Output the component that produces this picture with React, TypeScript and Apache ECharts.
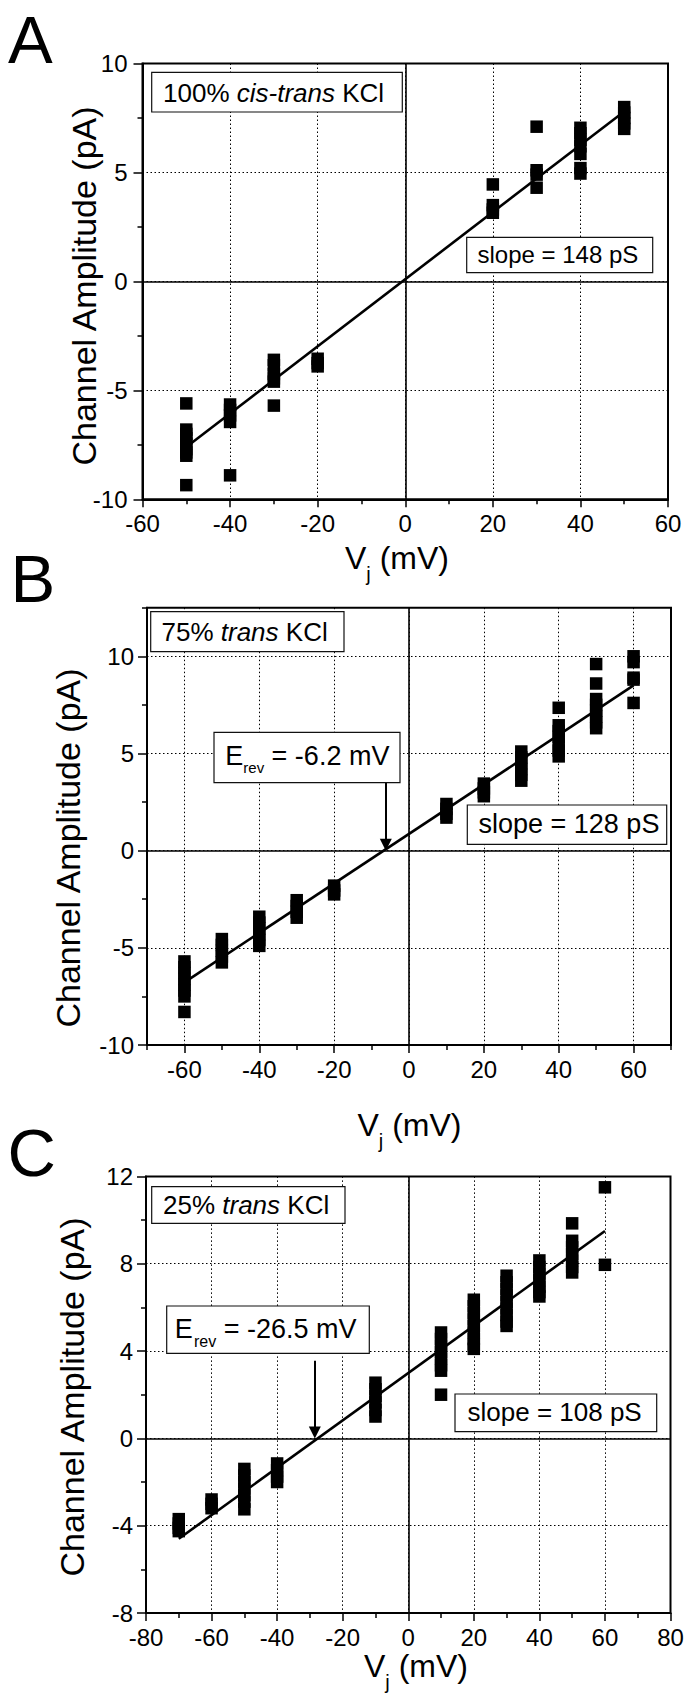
import React, { useEffect, useRef } from 'react';
import * as echarts from 'echarts';

const FONT = "'Liberation Sans', Arial, Helvetica, sans-serif";

// ---------- Panel A : 100% cis-trans KCl ----------
const pointsA: [number, number][] = [
  [-50, -5.6], [-50, -6.8], [-50, -7.0], [-50, -7.2], [-50, -7.45], [-50, -7.7], [-50, -7.85], [-50, -8.0], [-50, -9.35],
  [-40, -5.65], [-40, -5.9], [-40, -6.15], [-40, -6.45], [-40, -8.9],
  [-30, -3.6], [-30, -3.85], [-30, -4.25], [-30, -4.45], [-30, -4.6], [-30, -5.7],
  [-20, -3.55], [-20, -3.75], [-20, -3.9],
  [20, 4.45], [20, 3.5], [20, 3.3], [20, 3.15],
  [30, 7.1], [30, 5.1], [30, 4.9], [30, 4.3],
  [40, 7.05], [40, 6.8], [40, 6.5], [40, 6.2], [40, 5.85], [40, 5.2], [40, 4.95],
  [50, 8.0], [50, 7.75], [50, 7.5], [50, 7.25], [50, 7.0],
];
const fitA: [number, number][] = [[-50, -7.6], [50, 7.8]];
const xRangeA = [-60, 60];
const yRangeA = [-10, 10];
const xTicksA = [-60, -40, -20, 0, 20, 40, 60];
const xMinorA = [-50, -30, -10, 10, 30, 50];
const yTicksA = [-10, -5, 0, 5, 10];
const yMinorA = [-7.5, -2.5, 2.5, 7.5];

// ---------- Panel B : 75% trans KCl ----------
const pointsB: [number, number][] = [
  [-60, -5.7], [-60, -6.0], [-60, -6.3], [-60, -6.6], [-60, -6.9], [-60, -7.2], [-60, -7.5], [-60, -8.3],
  [-50, -4.55], [-50, -4.85], [-50, -5.15], [-50, -5.45], [-50, -5.75],
  [-40, -3.4], [-40, -3.7], [-40, -4.0], [-40, -4.3], [-40, -4.6], [-40, -4.9],
  [-30, -2.55], [-30, -2.85], [-30, -3.15], [-30, -3.45],
  [-20, -1.8], [-20, -2.05], [-20, -2.25],
  [10, 2.4], [10, 2.15], [10, 1.9], [10, 1.7],
  [20, 3.45], [20, 3.2], [20, 3.0], [20, 2.8],
  [30, 5.1], [30, 4.8], [30, 4.5], [30, 4.2], [30, 3.9], [30, 3.6],
  [40, 7.35], [40, 6.45], [40, 6.15], [40, 5.85], [40, 5.5], [40, 5.15], [40, 4.85],
  [50, 9.6], [50, 8.6], [50, 7.8], [50, 7.5], [50, 7.2], [50, 6.9], [50, 6.6], [50, 6.3],
  [60, 10.0], [60, 9.7], [60, 8.9], [60, 8.8], [60, 7.6],
];
const fitB: [number, number][] = [[-59, -6.65], [60, 8.5]];
const arrowB = { x: -6.2, top: 3.5, tip: 0.3 };
const xRangeB = [-70, 70];
const yRangeB = [-10, 12.5];
const xTicksB = [-60, -40, -20, 0, 20, 40, 60];
const xMinorB = [-70, -50, -30, -10, 10, 30, 50, 70];
const yTicksB = [-10, -5, 0, 5, 10];
const yMinorB = [-7.5, -2.5, 2.5, 7.5, 12.5];

// ---------- Panel C : 25% trans KCl ----------
const pointsC: [number, number][] = [
  [-70, -3.7], [-70, -3.9], [-70, -4.1], [-70, -4.25],
  [-60, -2.8], [-60, -3.0], [-60, -3.2],
  [-50, -1.4], [-50, -1.7], [-50, -2.0], [-50, -2.3], [-50, -2.6], [-50, -2.9], [-50, -3.25],
  [-40, -1.15], [-40, -1.45], [-40, -1.75], [-40, -2.0],
  [-10, 2.55], [-10, 2.25], [-10, 1.95], [-10, 1.65], [-10, 1.3], [-10, 1.0],
  [10, 4.85], [10, 4.55], [10, 4.25], [10, 3.95], [10, 3.65], [10, 3.35], [10, 3.1], [10, 2.0],
  [20, 6.35], [20, 6.05], [20, 5.75], [20, 5.45], [20, 5.15], [20, 4.85], [20, 4.55], [20, 4.3], [20, 4.1],
  [30, 7.45], [30, 7.15], [30, 6.85], [30, 6.55], [30, 6.25], [30, 5.95], [30, 5.65], [30, 5.35], [30, 5.15],
  [40, 8.15], [40, 7.85], [40, 7.55], [40, 7.25], [40, 6.95], [40, 6.7], [40, 6.5],
  [50, 9.85], [50, 9.05], [50, 8.75], [50, 8.45], [50, 8.15], [50, 7.85], [50, 7.6],
  [60, 11.5], [60, 7.95],
];
const fitC: [number, number][] = [[-70, -4.6], [60, 9.5]];
const arrowC = { x: -28.5, top: 3.55, tip: 0.27 };
const xRangeC = [-80, 80];
const yRangeC = [-8, 12];
const xTicksC = [-80, -60, -40, -20, 0, 20, 40, 60, 80];
const xMinorC = [-70, -50, -30, -10, 10, 30, 50, 70];
const yTicksC = [-8, -4, 0, 4, 8, 12];
const yMinorC = [-6, -2, 2, 6, 10];

const yTitle = 'Channel Amplitude (pA)';

type Arrow = { x: number; top: number; tip: number } | null;

function mainAxis(isX: boolean, gi: number, range: number[], ticks: number[], margin: number) {
  return {
    type: 'value',
    gridIndex: gi,
    min: range[0],
    max: range[1],
    position: isX ? 'bottom' : 'left',
    axisLine: { show: true, onZero: false, lineStyle: { color: '#000', width: 2 } },
    axisTick: { show: true, inside: false, length: isX ? 8 : 9, customValues: ticks, lineStyle: { color: '#000', width: 1.5 } },
    minorTick: { show: false },
    axisLabel: { show: true, customValues: ticks, margin, color: '#000', fontSize: 24, fontFamily: FONT },
    splitLine: { show: true, lineStyle: { type: [1.5, 2.5], color: '#000', width: 1 } },
    axisPointer: { show: false },
  };
}

function minorAxis(isX: boolean, gi: number, range: number[], ticks: number[]) {
  return {
    type: 'value',
    gridIndex: gi,
    min: range[0],
    max: range[1],
    position: isX ? 'bottom' : 'left',
    axisLine: { show: false, onZero: false },
    axisTick: { show: true, inside: false, length: 5, customValues: ticks, lineStyle: { color: '#000', width: 1.5 } },
    axisLabel: { show: false },
    splitLine: { show: false },
    axisPointer: { show: false },
  };
}

function txt(x: number, base: number, text: string, size: number, extra: any = {}) {
  return {
    type: 'text',
    x,
    y: base - 0.3465 * size,
    z: 60,
    silent: true,
    style: {
      text,
      fontSize: size,
      fontFamily: FONT,
      fill: '#000',
      align: 'left',
      verticalAlign: 'middle',
      textAlign: 'left',
      textVerticalAlign: 'middle',
      ...extra,
    },
  };
}

function richTxt(x: number, base: number, a: string, it: string, b: string, size: number) {
  return txt(x, base, `{n|${a}}{i|${it}}{n|${b}}`, size, {
    rich: {
      n: { fontSize: size, fontFamily: FONT, fill: '#000' },
      i: { fontSize: size, fontFamily: FONT, fontStyle: 'italic', fill: '#000' },
    },
  });
}

function box(x: number, y: number, w: number, h: number) {
  return {
    type: 'rect',
    z: 55,
    silent: true,
    shape: { x, y, width: w, height: h },
    style: { fill: '#fff', stroke: '#111', lineWidth: 1.2 },
  };
}

function yTitleEl(cx: number, cy: number) {
  return {
    type: 'text',
    x: cx,
    y: cy,
    rotation: Math.PI / 2,
    z: 60,
    silent: true,
    style: {
      text: yTitle,
      fontSize: 34,
      fontFamily: FONT,
      fill: '#000',
      align: 'center',
      verticalAlign: 'middle',
      textAlign: 'center',
      textVerticalAlign: 'middle',
    },
  };
}

function xTitleEls(x: number, base: number) {
  const vW = 0.667 * 32;
  const jW = 0.222 * 20;
  return [
    txt(x, base, 'V', 32),
    txt(x + vW, base + 12, 'j', 20),
    txt(x + vW + jW, base, ' (mV)', 32),
  ];
}

function buildOption() {
  const panels = [
    { grid: { left: 142.5, top: 63.5, width: 525.5, height: 435.8 }, xr: xRangeA, yr: yRangeA, xt: xTicksA, xm: xMinorA, yt: yTicksA, ym: yMinorA, pts: pointsA, fit: fitA, arrow: null as Arrow, ym2: 15 },
    { grid: { left: 147, top: 607.7, width: 524, height: 437.3 }, xr: xRangeB, yr: yRangeB, xt: xTicksB, xm: xMinorB, yt: yTicksB, ym: yMinorB, pts: pointsB, fit: fitB, arrow: arrowB as Arrow, ym2: 13 },
    { grid: { left: 146, top: 1176.4, width: 524.5, height: 436.6 }, xr: xRangeC, yr: yRangeC, xt: xTicksC, xm: xMinorC, yt: yTicksC, ym: yMinorC, pts: pointsC, fit: fitC, arrow: arrowC as Arrow, ym2: 13 },
  ];

  const grid: any[] = [];
  const xAxis: any[] = [];
  const yAxis: any[] = [];
  const series: any[] = [];

  panels.forEach((p, i) => {
    grid.push({
      ...p.grid,
      show: true,
      borderColor: '#000',
      borderWidth: 2,
      backgroundColor: 'rgba(0,0,0,0)',
      containLabel: false,
      outerBoundsMode: 'none',
    });
    xAxis.push(mainAxis(true, i, p.xr, p.xt, 12), minorAxis(true, i, p.xr, p.xm));
    yAxis.push(mainAxis(false, i, p.yr, p.yt, p.ym2), minorAxis(false, i, p.yr, p.ym));

    const scatter: any = {
      type: 'scatter',
      xAxisIndex: 2 * i,
      yAxisIndex: 2 * i,
      data: p.pts,
      symbol: 'rect',
      symbolSize: 12.5,
      itemStyle: { color: '#000', opacity: 1 },
      z: 3,
      silent: true,
    };
    if (p.arrow) {
      scatter.markLine = {
        silent: true,
        animation: false,
        symbol: ['none', 'triangle'],
        symbolSize: 12,
        label: { show: false },
        emphasis: { disabled: true },
        lineStyle: { type: 'solid', color: '#000', width: 2 },
        data: [[{ coord: [p.arrow.x, p.arrow.top] }, { coord: [p.arrow.x, p.arrow.tip] }]],
      };
    }
    series.push(scatter);
    series.push({
      type: 'line',
      xAxisIndex: 2 * i,
      yAxisIndex: 2 * i,
      data: p.fit,
      symbol: 'none',
      showSymbol: false,
      lineStyle: { color: '#000', width: 2.6 },
      z: 4,
      silent: true,
      markLine: {
        silent: true,
        animation: false,
        symbol: ['none', 'none'],
        label: { show: false },
        emphasis: { disabled: true },
        lineStyle: { type: 'solid', color: '#000', width: 1.6 },
        data: [{ xAxis: 0 }, { yAxis: 0 }],
      },
    });
  });

  const graphic: any[] = [
    // panel letters
    txt(8, 63, 'A', 67),
    txt(10.4, 601.5, 'B', 67),
    txt(7.5, 1175.5, 'C', 67),
    // y titles
    yTitleEl(83.5, 286),
    yTitleEl(68.3, 848),
    yTitleEl(71.5, 1397),
    // x titles
    ...xTitleEls(345, 569),
    ...xTitleEls(357.5, 1136),
    ...xTitleEls(364, 1677),
    // Panel A boxes
    box(151.7, 72.3, 250.6, 39.7),
    richTxt(163, 102.3, '100% ', 'cis-trans', ' KCl', 26),
    box(466.7, 237.3, 186, 35.4),
    txt(477.5, 263.3, 'slope = 148 pS', 24),
    // Panel B boxes
    box(150.7, 611.7, 193.3, 40),
    richTxt(161.5, 641.5, '75% ', 'trans', ' KCl', 26),
    box(214, 732.3, 186, 50.4),
    txt(225.3, 765, 'E', 27),
    txt(243.3, 773, 'rev', 15),
    txt(264.1, 765, ' = -6.2 mV', 27),
    box(467.3, 805, 199.4, 39.3),
    txt(478.5, 833.5, 'slope = 128 pS', 27),
    // Panel C boxes
    box(151.7, 1186.7, 193.3, 36.6),
    richTxt(163, 1214, '25% ', 'trans', ' KCl', 26),
    box(166.7, 1306, 202.6, 47.3),
    txt(174.7, 1338, 'E', 27),
    txt(194, 1346.7, 'rev', 16),
    txt(216.2, 1338, ' = -26.5 mV', 27),
    box(455, 1394, 201.7, 37.7),
    txt(467.5, 1421, 'slope = 108 pS', 26),
  ];

  return {
    animation: false,
    backgroundColor: '#fff',
    grid,
    xAxis,
    yAxis,
    series,
    graphic,
  };
}

export default function App() {
  const ref = useRef<HTMLDivElement>(null);
  useEffect(() => {
    if (!ref.current) return;
    const chart = echarts.init(ref.current, undefined, { renderer: 'svg', width: 686, height: 1695 });
    chart.setOption(buildOption() as any);
    return () => {
      chart.dispose();
    };
  }, []);
  return (
    <div
      ref={ref}
      style={{ position: 'fixed', left: 0, top: 0, width: 686, height: 1695, background: '#fff' }}
    />
  );
}
